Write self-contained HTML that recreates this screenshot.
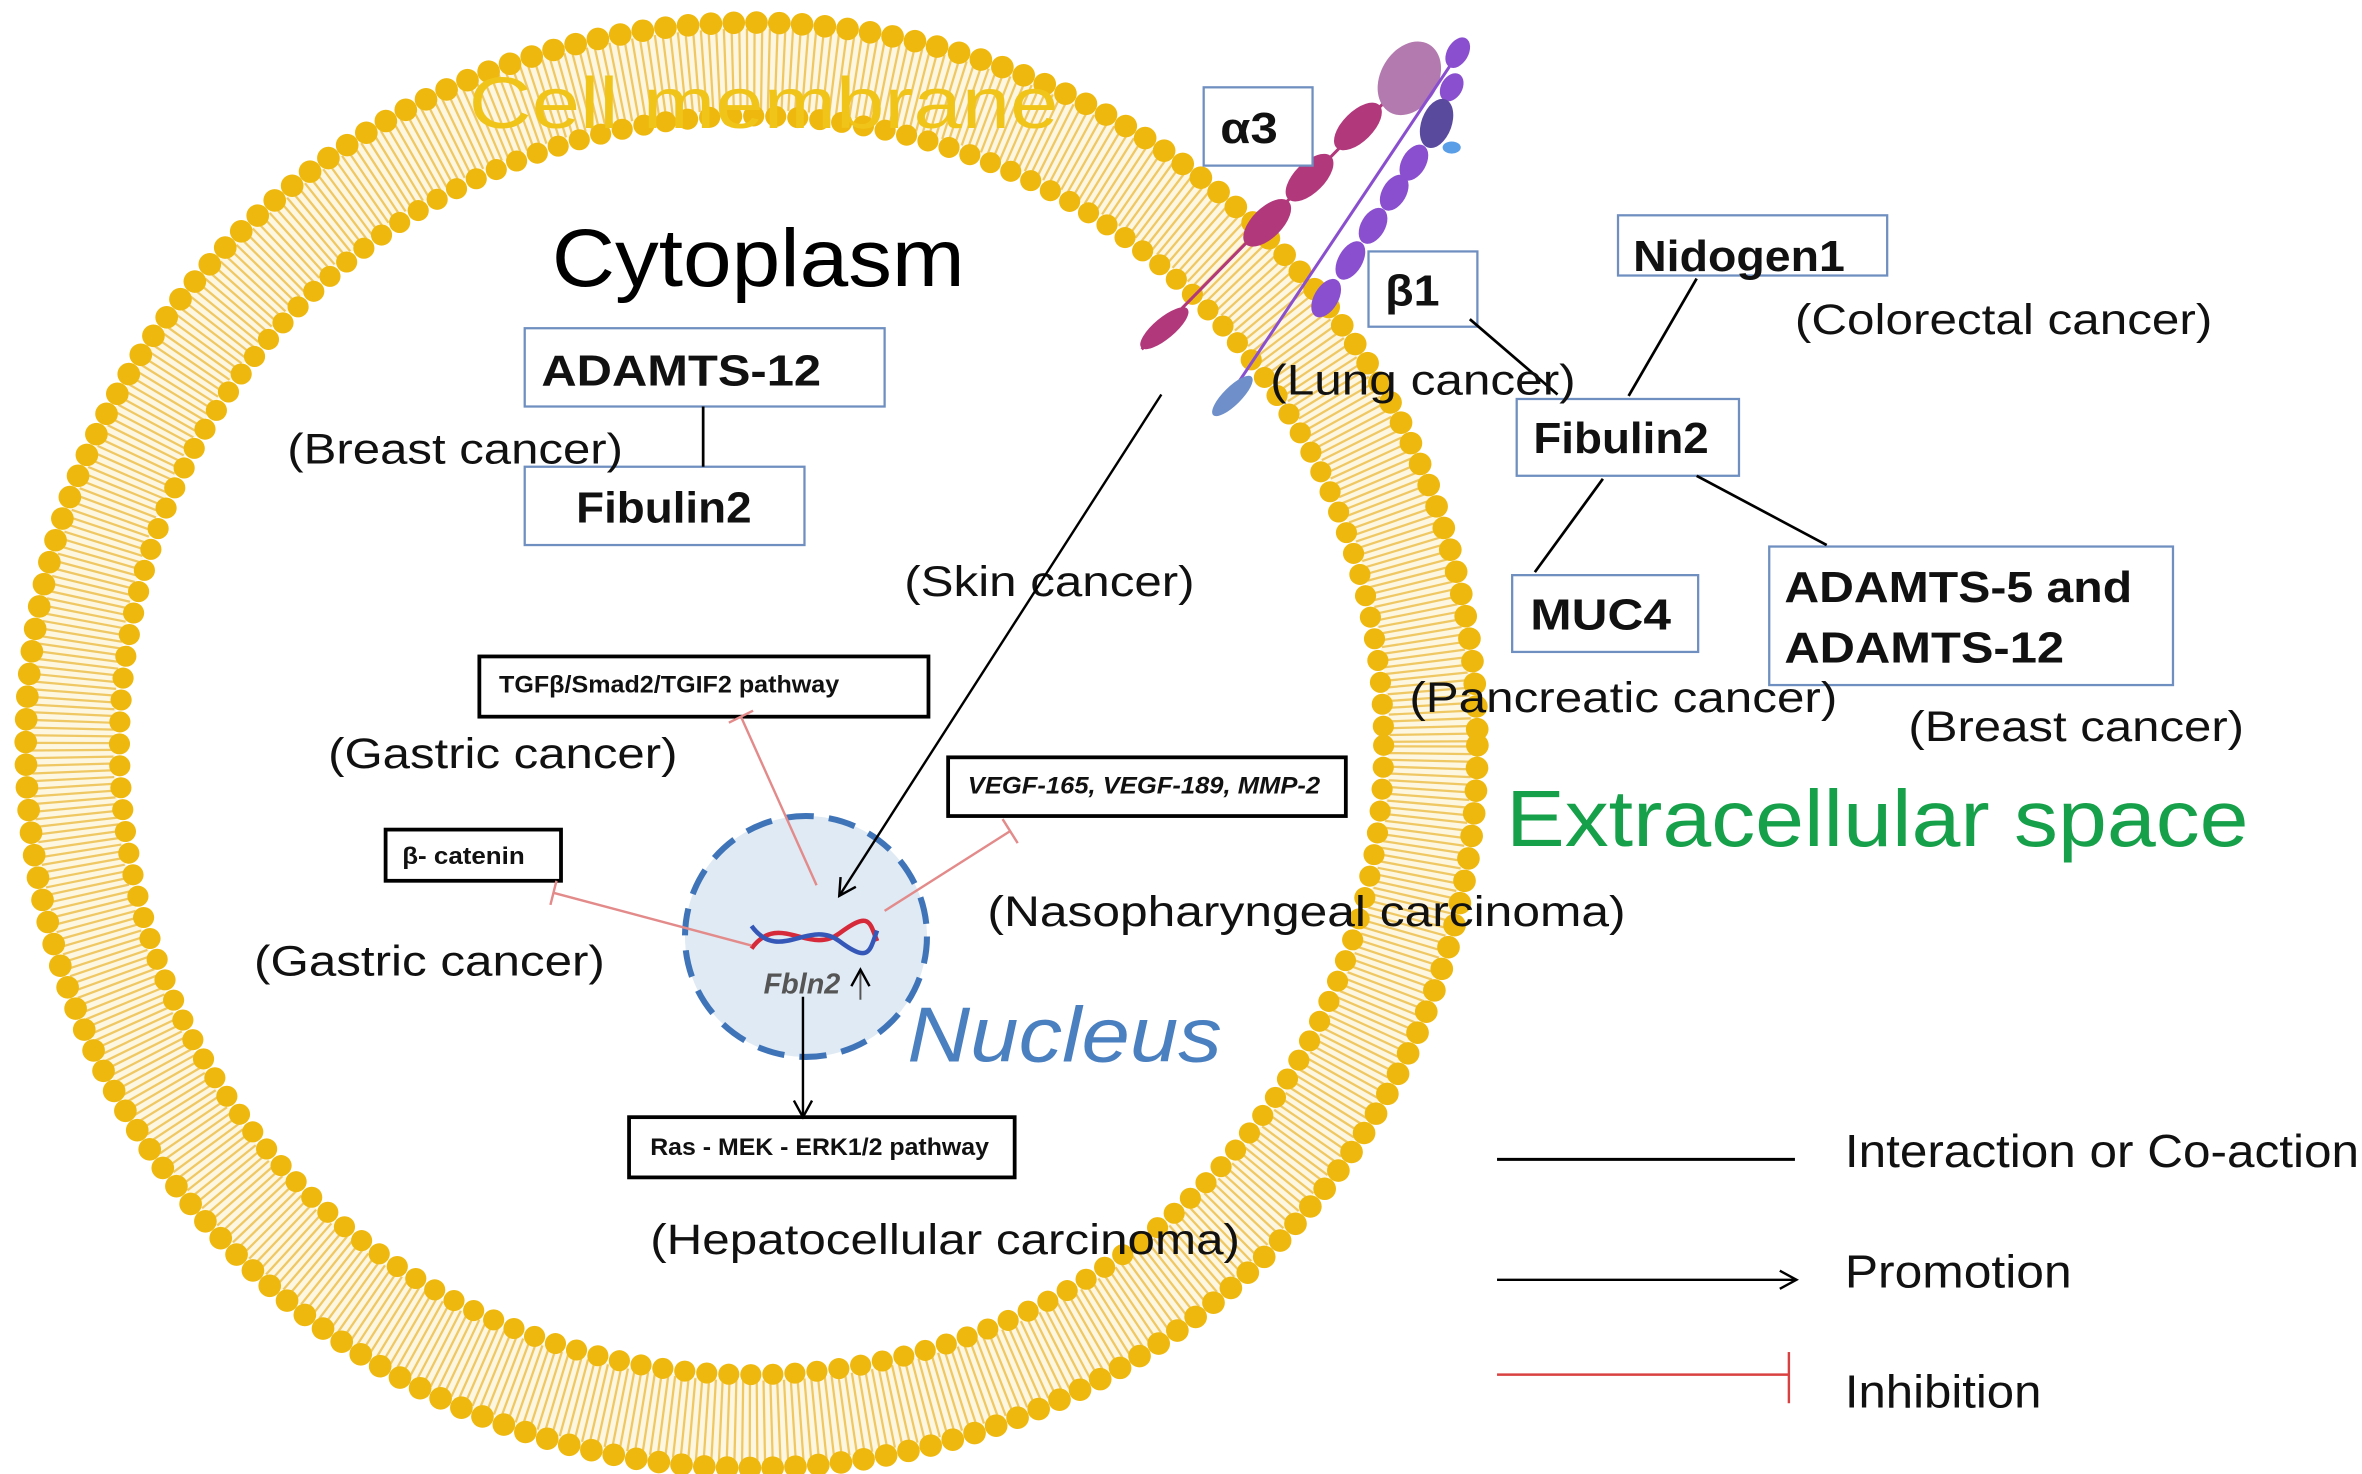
<!DOCTYPE html>
<html><head><meta charset="utf-8"><style>
html,body{margin:0;padding:0;background:#fff;}
svg{display:block;}
text{font-family:"Liberation Sans",sans-serif;}
</style></head><body>
<svg width="2362" height="1474" viewBox="0 0 1562 979" preserveAspectRatio="none" xmlns="http://www.w3.org/2000/svg">
<defs>
<marker id="ar" markerWidth="14" markerHeight="14" refX="12" refY="7" orient="auto" markerUnits="userSpaceOnUse">
<path d="M1,1 L12,7 L1,13" fill="none" stroke="#000" stroke-width="1.6"/>
</marker>
</defs>
<!-- membrane -->
<circle cx="497" cy="495" r="449" fill="none" stroke="#fdf6e0" stroke-width="56"/>
<circle cx="497" cy="495" r="449" fill="none" stroke="#efc864" stroke-width="54" stroke-dasharray="1.5 3.3"/>
<circle cx="497" cy="495" r="480" fill="none" stroke="#eeb80e" stroke-width="15" stroke-linecap="round" stroke-dasharray="0 15.1"/>
<circle cx="497" cy="495" r="418" fill="none" stroke="#eeb80e" stroke-width="14" stroke-linecap="round" stroke-dasharray="0 14.6"/>

<!-- integrin alpha3 -->
<g fill="#b2387c">
<line x1="755" y1="232" x2="935" y2="48" stroke="#b2387c" stroke-width="2"/>
<ellipse cx="770" cy="218" rx="20" ry="7" transform="rotate(-40 770 218)"/>
<ellipse cx="838" cy="148" rx="20" ry="10" transform="rotate(-45 838 148)"/>
<ellipse cx="866" cy="118" rx="20" ry="10" transform="rotate(-45 866 118)"/>
<ellipse cx="898" cy="84" rx="20" ry="10" transform="rotate(-45 898 84)"/>
</g>
<ellipse cx="932" cy="52" rx="26" ry="19" transform="rotate(-60 932 52)" fill="#b37aaf"/>
<!-- beta1 -->
<g fill="#8a4fcf">
<line x1="805" y1="275" x2="968" y2="30" stroke="#8a4fcf" stroke-width="2"/>
<ellipse cx="877" cy="198" rx="14" ry="8" transform="rotate(-60 877 198)"/>
<ellipse cx="893" cy="173" rx="14" ry="8" transform="rotate(-60 893 173)"/>
<ellipse cx="908" cy="150" rx="13" ry="8" transform="rotate(-60 908 150)"/>
<ellipse cx="922" cy="128" rx="13" ry="8" transform="rotate(-60 922 128)"/>
<ellipse cx="935" cy="108" rx="13" ry="8" transform="rotate(-60 935 108)"/>
<ellipse cx="960" cy="58" rx="10" ry="7" transform="rotate(-60 960 58)"/>
<ellipse cx="964" cy="35" rx="11" ry="7" transform="rotate(-60 964 35)"/>
</g>
<ellipse cx="950" cy="82" rx="17" ry="10" transform="rotate(-70 950 82)" fill="#5a4a9e"/>
<ellipse cx="960" cy="98" rx="6" ry="4" fill="#5b9ee8"/>
<ellipse cx="815" cy="263" rx="18" ry="6" transform="rotate(-45 815 263)" fill="#6e8fc9"/>

<!-- titles -->
<text x="310" y="85" font-size="48" fill="#f0c419" textLength="390" lengthAdjust="spacingAndGlyphs">Cell membrane</text>
<text x="365" y="190" font-size="54" fill="#000" textLength="273" lengthAdjust="spacingAndGlyphs">Cytoplasm</text>
<text x="996" y="562" font-size="53" fill="#17a04a" textLength="491" lengthAdjust="spacingAndGlyphs">Extracellular space</text>
<text x="600" y="705" font-size="52" font-style="italic" fill="#4a7fc0" textLength="208" lengthAdjust="spacingAndGlyphs">Nucleus</text>

<!-- boxes -->
<g fill="#fff" stroke="#6f8fc0" stroke-width="1.5">
<rect x="347" y="218" width="238" height="52"/>
<rect x="347" y="310" width="185" height="52"/>
<rect x="796" y="58" width="72" height="52"/>
<rect x="905" y="167" width="72" height="50"/>
<rect x="1070" y="143" width="178" height="40"/>
<rect x="1003" y="265" width="147" height="51"/>
<rect x="1000" y="382" width="123" height="51"/>
<rect x="1170" y="363" width="267" height="92"/>
</g>
<g font-weight="bold" font-size="29" fill="#111" lengthAdjust="spacingAndGlyphs">
<text x="358" y="256" textLength="185" lengthAdjust="spacingAndGlyphs">ADAMTS-12</text>
<text x="381" y="347" textLength="116" lengthAdjust="spacingAndGlyphs">Fibulin2</text>
<text x="807" y="95" textLength="38" lengthAdjust="spacingAndGlyphs">α3</text>
<text x="916" y="203" textLength="36" lengthAdjust="spacingAndGlyphs">β1</text>
<text x="1080" y="180" textLength="140" lengthAdjust="spacingAndGlyphs">Nidogen1</text>
<text x="1014" y="301" textLength="116" lengthAdjust="spacingAndGlyphs">Fibulin2</text>
<text x="1012" y="418" textLength="93" lengthAdjust="spacingAndGlyphs">MUC4</text>
<text x="1180" y="400" textLength="230" lengthAdjust="spacingAndGlyphs">ADAMTS-5 and</text>
<text x="1180" y="440" textLength="185" lengthAdjust="spacingAndGlyphs">ADAMTS-12</text>
</g>
<g stroke="#000" stroke-width="1.8">
<line x1="465" y1="270" x2="465" y2="310"/>
<line x1="972" y1="212" x2="1030" y2="262"/>
<line x1="1122" y1="185" x2="1077" y2="263"/>
<line x1="1060" y1="318" x2="1015" y2="380"/>
<line x1="1122" y1="316" x2="1208" y2="362"/>
</g>

<g font-size="28" fill="#111">
<text x="190" y="308" textLength="222" lengthAdjust="spacingAndGlyphs">(Breast cancer)</text>
<text x="598" y="396" textLength="192" lengthAdjust="spacingAndGlyphs">(Skin cancer)</text>
<text x="840" y="262" textLength="202" lengthAdjust="spacingAndGlyphs">(Lung cancer)</text>
<text x="1187" y="222" textLength="276" lengthAdjust="spacingAndGlyphs">(Colorectal cancer)</text>
<text x="932" y="473" textLength="283" lengthAdjust="spacingAndGlyphs">(Pancreatic cancer)</text>
<text x="1262" y="492" textLength="222" lengthAdjust="spacingAndGlyphs">(Breast cancer)</text>
<text x="217" y="510" textLength="231" lengthAdjust="spacingAndGlyphs">(Gastric cancer)</text>
<text x="168" y="648" textLength="232" lengthAdjust="spacingAndGlyphs">(Gastric cancer)</text>
<text x="653" y="615" textLength="422" lengthAdjust="spacingAndGlyphs">(Nasopharyngeal carcinoma)</text>
<text x="430" y="833" textLength="390" lengthAdjust="spacingAndGlyphs">(Hepatocellular carcinoma)</text>
</g>

<!-- nucleus -->
<circle cx="533" cy="622" r="80" fill="#dfeaf4" stroke="#3f74b8" stroke-width="4" stroke-dasharray="18 10"/>
<path d="M497,630 C515,605 535,635 555,620 S575,612 580,625" fill="none" stroke="#d62a3a" stroke-width="3"/>
<path d="M497,615 C515,640 535,610 555,625 S575,632 580,618" fill="none" stroke="#3558b8" stroke-width="3"/>
<text x="505" y="660" font-size="19" font-weight="bold" font-style="italic" fill="#555">Fbln2</text>
<line x1="569" y1="664" x2="569" y2="644" stroke="#555" stroke-width="1.3" marker-end="url(#ar)"/>

<!-- small boxes -->
<g fill="#fff" stroke="#000" stroke-width="2.5">
<rect x="317" y="436" width="297" height="40"/>
<rect x="627" y="503" width="263" height="39"/>
<rect x="255" y="551" width="116" height="34"/>
<rect x="416" y="742" width="255" height="40"/>
</g>
<g font-size="16" font-weight="bold" fill="#111">
<text x="330" y="460" textLength="225" lengthAdjust="spacingAndGlyphs">TGFβ/Smad2/TGIF2 pathway</text>
<text x="640" y="527" font-style="italic" textLength="233" lengthAdjust="spacingAndGlyphs">VEGF-165, VEGF-189, MMP-2</text>
<text x="266" y="574" textLength="81" lengthAdjust="spacingAndGlyphs">β- catenin</text>
<text x="430" y="767" textLength="224" lengthAdjust="spacingAndGlyphs">Ras - MEK - ERK1/2 pathway</text>
</g>

<!-- inhibitions -->
<g stroke="#e38a8a" stroke-width="1.6">
<line x1="540" y1="588" x2="490" y2="476"/>
<line x1="482" y1="480" x2="498" y2="472"/>
<line x1="585" y1="605" x2="668" y2="552"/>
<line x1="663" y1="544" x2="673" y2="560"/>
<line x1="497" y1="628" x2="366" y2="593"/>
<line x1="368" y1="585" x2="364" y2="601"/>
</g>
<!-- promotions -->
<line x1="768" y1="262" x2="555" y2="595" stroke="#000" stroke-width="1.6" marker-end="url(#ar)"/>
<line x1="531" y1="662" x2="531" y2="742" stroke="#000" stroke-width="1.6" marker-end="url(#ar)"/>

<!-- legend -->
<line x1="990" y1="770" x2="1187" y2="770" stroke="#000" stroke-width="2"/>
<line x1="990" y1="850" x2="1188" y2="850" stroke="#000" stroke-width="1.6" marker-end="url(#ar)"/>
<line x1="990" y1="913" x2="1183" y2="913" stroke="#d94040" stroke-width="1.6"/>
<line x1="1183" y1="898" x2="1183" y2="932" stroke="#d94040" stroke-width="1.6"/>
<g font-size="31" fill="#111">
<text x="1220" y="775" textLength="340" lengthAdjust="spacingAndGlyphs">Interaction or Co-action</text>
<text x="1220" y="855" textLength="150" lengthAdjust="spacingAndGlyphs">Promotion</text>
<text x="1220" y="935" textLength="130" lengthAdjust="spacingAndGlyphs">Inhibition</text>
</g>
</svg>
</body></html>
